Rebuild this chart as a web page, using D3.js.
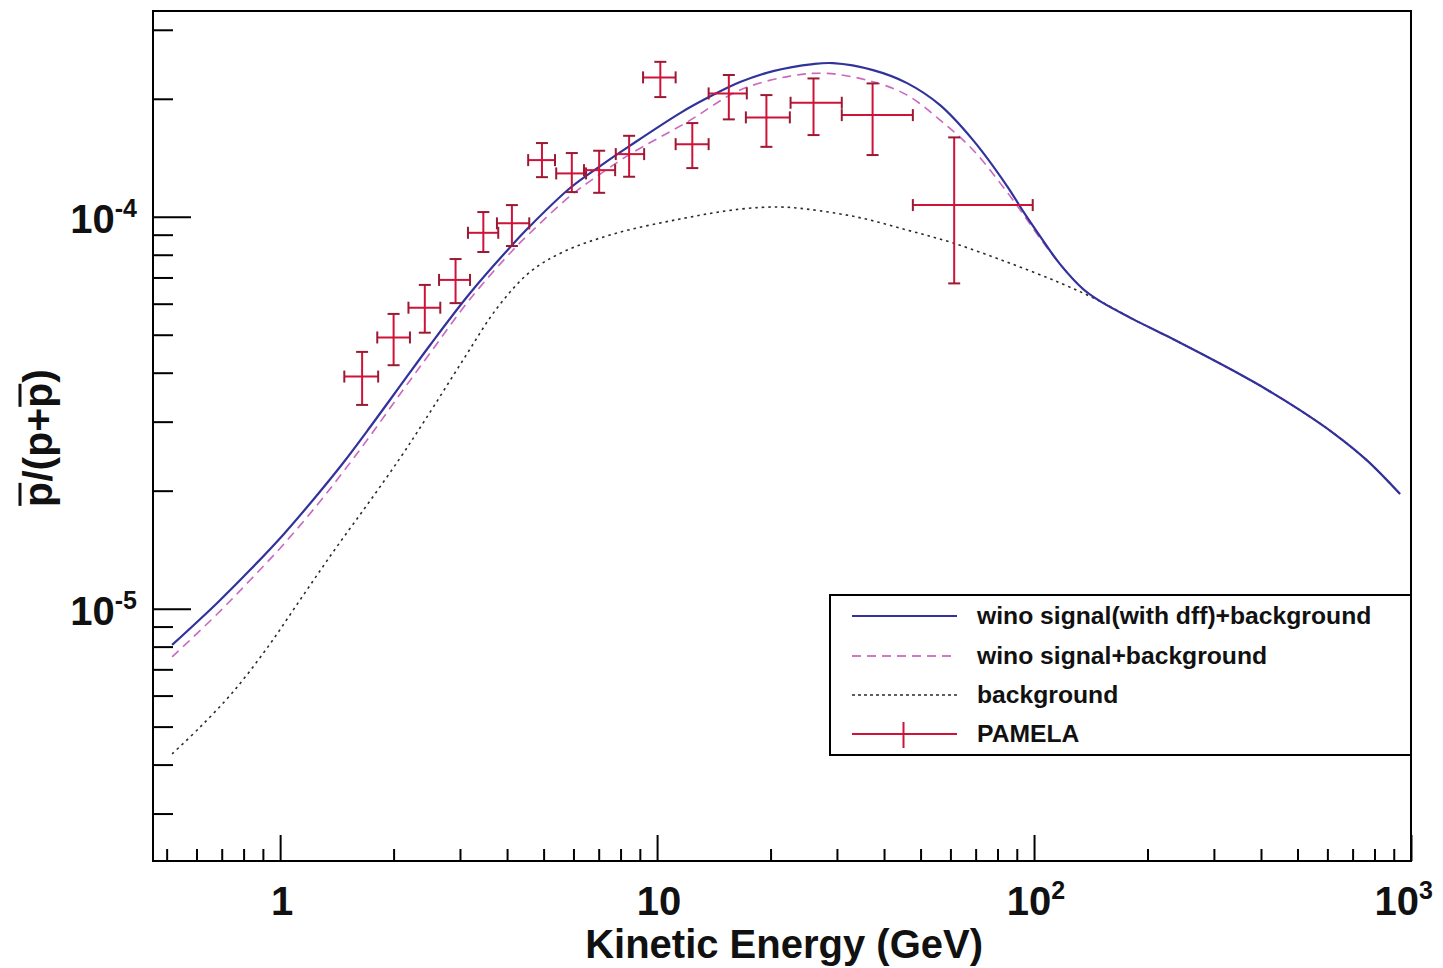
<!DOCTYPE html>
<html>
<head>
<meta charset="utf-8">
<script src="https://cdn.jsdelivr.net/npm/d3@7"></script>
<style>
  body { margin: 0; background: #fff; }
  svg { display: block; font-family: "Liberation Sans", Arial, Helvetica, sans-serif; font-weight: bold; }
</style>
</head>
<body>
<svg id="chart" width="1443" height="968"></svg>
<script>
// Axis ranges
const energyRange = [0.46, 1000];          // kinetic energy, GeV
const ratioRange = [2.27e-6, 3.35e-4];     // pbar / (p + pbar)

// Tick values
const xMajorTicks = [1, 10, 100, 1000];
const xMinorTicks = [0.5, 0.6, 0.7, 0.8, 0.9, 2, 3, 4, 5, 6, 7, 8, 9,
                     20, 30, 40, 50, 60, 70, 80, 90, 200, 300, 400, 500, 600, 700, 800, 900];
const xTickLabels = [["1", ""], ["10", ""], ["10", "2"], ["10", "3"]];
const yMajorTicks = [1e-5, 1e-4];
const yMinorTicks = [3e-6, 4e-6, 5e-6, 6e-6, 7e-6, 8e-6, 9e-6,
                     2e-5, 3e-5, 4e-5, 5e-5, 6e-5, 7e-5, 8e-5, 9e-5, 2e-4, 3e-4];
const yTickLabels = [["10", "-5"], ["10", "-4"]];

// Wino signal (with dff) + background
const winoDffEnergy = [0.517, 0.681, 0.833, 1.018, 1.254, 1.469, 1.733, 2.081, 2.50, 3.192, 4.125, 4.603,
  5.877, 7.062, 8.481, 11.51, 13.65, 16.60, 20.31, 25.93, 29.30, 37.41, 46.05, 56.33, 68.90, 84.80,
  93.50, 103.7, 117.2, 134.9, 149.6, 183.0, 225.4, 275.6, 337.3, 415.0, 507.6, 621.0, 764.2, 935.3];
const winoDffRatio = [8.08e-6, 1.034e-5, 1.256e-5, 1.542e-5, 1.950e-5, 2.353e-5, 2.907e-5, 3.700e-5,
  4.708e-5, 6.39e-5, 8.47e-5, 9.47e-5, 1.184e-4, 1.347e-4, 1.519e-4, 1.839e-4, 2.014e-4, 2.206e-4,
  2.353e-4, 2.452e-4, 2.466e-4, 2.367e-4, 2.193e-4, 1.927e-4, 1.569e-4, 1.198e-4, 1.034e-4, 8.93e-5,
  7.57e-5, 6.54e-5, 6.09e-5, 5.48e-5, 4.96e-5, 4.49e-5, 4.05e-5, 3.62e-5, 3.21e-5, 2.81e-5, 2.39e-5, 1.962e-5];

// Wino signal + background
const winoEnergy = [0.517, 0.681, 0.833, 1.018, 1.254, 1.469, 1.733, 2.081, 2.50, 3.192, 4.125, 4.603,
  5.877, 7.062, 8.481, 12.01, 16.60, 22.53, 28.25, 37.41, 46.05, 56.33, 68.90, 84.80, 93.50, 103.7,
  117.2, 134.9, 149.6, 183.0, 225.4, 275.6, 337.3, 415.0, 507.6, 621.0, 764.2, 935.3];
const winoRatio = [7.53e-6, 9.69e-6, 1.183e-5, 1.454e-5, 1.839e-5, 2.232e-5, 2.759e-5, 3.529e-5, 4.49e-5,
  6.17e-5, 8.18e-5, 9.09e-5, 1.129e-4, 1.285e-4, 1.445e-4, 1.744e-4, 2.105e-4, 2.285e-4, 2.322e-4,
  2.210e-4, 2.044e-4, 1.765e-4, 1.480e-4, 1.156e-4, 1.016e-4, 8.82e-5, 7.57e-5, 6.54e-5, 6.09e-5,
  5.48e-5, 4.96e-5, 4.49e-5, 4.05e-5, 3.62e-5, 3.21e-5, 2.81e-5, 2.39e-5, 1.962e-5];

// Background only
const bgEnergy = [0.517, 0.614, 0.750, 0.924, 1.130, 1.382, 1.701, 2.081, 2.424, 3.058, 3.764, 4.603,
  5.632, 7.644, 11.51, 16.60, 21.20, 25.00, 33.93, 46.05, 60.97, 84.80, 117.2, 149.6, 183.0, 225.4,
  275.6, 337.3, 415.0, 507.6, 621.0, 764.2, 935.3];
const bgRatio = [4.26e-6, 4.99e-6, 6.13e-6, 7.94e-6, 1.053e-5, 1.395e-5, 1.839e-5, 2.423e-5, 3.030e-5,
  4.31e-5, 5.85e-5, 7.23e-5, 8.13e-5, 9.03e-5, 9.87e-5, 1.046e-4, 1.059e-4, 1.046e-4, 9.98e-5, 9.25e-5,
  8.57e-5, 7.66e-5, 6.78e-5, 6.09e-5, 5.48e-5, 4.96e-5, 4.49e-5, 4.05e-5, 3.62e-5, 3.21e-5, 2.81e-5,
  2.39e-5, 1.962e-5];

// PAMELA measurements
const pamelaEnergy = [1.65, 2.00, 2.42, 2.92, 3.46, 4.12, 4.95, 5.94, 7.02, 8.43, 10.2, 12.4, 15.5, 19.5, 26.0, 37.3, 61.4];
const pamelaEnergyLow = [1.48, 1.81, 2.19, 2.64, 3.15, 3.76, 4.55, 5.40, 6.40, 7.77, 9.18, 11.2, 13.7, 17.2, 22.6, 30.9, 47.7];
const pamelaEnergyHigh = [1.82, 2.21, 2.66, 3.19, 3.79, 4.58, 5.36, 6.48, 7.74, 9.24, 11.2, 13.7, 17.3, 22.5, 30.9, 47.7, 99.2];
const pamelaRatio = [3.91e-5, 4.92e-5, 5.86e-5, 6.90e-5, 9.10e-5, 9.62e-5, 1.395e-4, 1.290e-4, 1.315e-4,
  1.445e-4, 2.268e-4, 1.532e-4, 2.064e-4, 1.793e-4, 1.954e-4, 1.817e-4, 1.071e-4];
const pamelaErrUp = [0.61e-5, 0.73e-5, 0.84e-5, 0.90e-5, 1.18e-5, 1.09e-5, 1.47e-5, 1.64e-5, 1.59e-5,
  1.64e-5, 2.17e-5, 2.02e-5, 2.36e-5, 2.51e-5, 3.00e-5, 3.72e-5, 5.23e-5];
const pamelaErrDown = [0.60e-5, 0.74e-5, 0.80e-5, 0.88e-5, 0.97e-5, 1.20e-5, 1.33e-5, 1.34e-5, 1.64e-5,
  1.80e-5, 2.48e-5, 2.01e-5, 2.92e-5, 2.85e-5, 3.38e-5, 3.80e-5, 3.95e-5];

const legendLabels = ["wino signal(with dff)+background", "wino signal+background", "background", "PAMELA"];

// ---------------------------------------------------------------------------
const svg = d3.select("#chart");
const frame = { left: 153, right: 1411, top: 11, bottom: 861 };

const x = d3.scaleLog().domain(energyRange).range([frame.left, frame.right]);
const y = d3.scaleLog().domain(ratioRange).range([frame.bottom, frame.top]);

const colors = {
  dff: "#32329c",
  wino: "#c24cb4",
  bg: "#2a2a2a",
  data: "#cf1238",
  cap: "#9a1a34"
};

svg.append("defs").append("clipPath").attr("id", "plotClip")
  .append("rect")
  .attr("x", frame.left).attr("y", frame.top)
  .attr("width", frame.right - frame.left).attr("height", frame.bottom - frame.top);

// Ticks drawn inward from the bottom and left edges
function styleAxis(g) {
  g.select(".domain").remove();
  g.selectAll(".tick line").attr("stroke", "#000").attr("stroke-width", 2);
  g.selectAll(".tick text").remove();
}
svg.append("g").attr("transform", `translate(0,${frame.bottom})`)
  .call(d3.axisBottom(x).tickValues(xMinorTicks).tickSize(-12).tickFormat(""))
  .call(styleAxis);
svg.append("g").attr("transform", `translate(0,${frame.bottom})`)
  .call(d3.axisBottom(x).tickValues(xMajorTicks).tickSize(-26).tickFormat(""))
  .call(styleAxis);
svg.append("g").attr("transform", `translate(${frame.left},0)`)
  .call(d3.axisLeft(y).tickValues(yMinorTicks).tickSize(-20).tickFormat(""))
  .call(styleAxis);
svg.append("g").attr("transform", `translate(${frame.left},0)`)
  .call(d3.axisLeft(y).tickValues(yMajorTicks).tickSize(-38).tickFormat(""))
  .call(styleAxis);

// Frame
svg.append("rect")
  .attr("x", frame.left).attr("y", frame.top)
  .attr("width", frame.right - frame.left).attr("height", frame.bottom - frame.top)
  .attr("fill", "none").attr("stroke", "#000").attr("stroke-width", 2);

// Tick labels with superscript exponents
function powerLabel(g, base, exp) {
  const t = g.append("text").attr("fill", "#111").attr("font-size", 40);
  t.append("tspan").text(base);
  if (exp) {
    t.append("tspan").attr("font-size", 25).attr("dy", -16).text(exp);
  }
  return t;
}
xMajorTicks.forEach((v, i) => {
  const t = powerLabel(svg, xTickLabels[i][0], xTickLabels[i][1])
    .attr("y", 915).attr("text-anchor", "middle").attr("x", x(v) + 2);
  const bb = t.node().getBBox();
  if (bb.x + bb.width > 1433) t.attr("x", x(v) + 2 - (bb.x + bb.width - 1433));
});
yMajorTicks.forEach((v, i) => {
  powerLabel(svg, yTickLabels[i][0], yTickLabels[i][1])
    .attr("x", 137).attr("y", y(v) + 16).attr("text-anchor", "end");
});

// Axis titles
svg.append("text")
  .attr("x", 983).attr("y", 958).attr("text-anchor", "end")
  .attr("font-size", 40).attr("fill", "#111")
  .text("Kinetic Energy (GeV)");

const yTitle = svg.append("g").attr("transform", "translate(52,438) rotate(-90)");
const yTitleText = yTitle.append("text")
  .attr("text-anchor", "middle").attr("font-size", 41).attr("fill", "#111")
  .text("p/(p+p)");
[0, 5].forEach(ci => {
  const a = yTitleText.node().getStartPositionOfChar(ci);
  const b = yTitleText.node().getEndPositionOfChar(ci);
  yTitle.append("line")
    .attr("x1", a.x + 1).attr("x2", b.x - 1)
    .attr("y1", -32).attr("y2", -32)
    .attr("stroke", "#111").attr("stroke-width", 3);
});

// Curves, interpolated smoothly in screen space
const line = d3.line().x(d => x(d[0])).y(d => y(d[1])).curve(d3.curveCatmullRom.alpha(0.5));
const curves = svg.append("g").attr("clip-path", "url(#plotClip)");

curves.append("path")
  .datum(d3.zip(bgEnergy, bgRatio))
  .attr("d", line).attr("fill", "none")
  .attr("stroke", colors.bg).attr("stroke-width", 1.6).attr("stroke-dasharray", "2.5,4");

curves.append("path")
  .datum(d3.zip(winoEnergy, winoRatio))
  .attr("d", line).attr("fill", "none")
  .attr("stroke", colors.wino).attr("stroke-width", 1.6).attr("stroke-dasharray", "9,6")
  .attr("opacity", 0.85);

curves.append("path")
  .datum(d3.zip(winoDffEnergy, winoDffRatio))
  .attr("d", line).attr("fill", "none")
  .attr("stroke", colors.dff).attr("stroke-width", 2.2);

// PAMELA error crosses
const cap = 6;
const pamela = pamelaEnergy.map((e, i) => ({
  e, lo: pamelaEnergyLow[i], hi: pamelaEnergyHigh[i],
  r: pamelaRatio[i], up: pamelaRatio[i] + pamelaErrUp[i], down: pamelaRatio[i] - pamelaErrDown[i]
}));
const pts = svg.append("g").attr("clip-path", "url(#plotClip)")
  .selectAll("g").data(pamela).join("g");
pts.append("line")
  .attr("x1", d => x(d.lo)).attr("x2", d => x(d.hi))
  .attr("y1", d => y(d.r)).attr("y2", d => y(d.r))
  .attr("stroke", colors.data).attr("stroke-width", 2);
pts.append("line")
  .attr("x1", d => x(d.e)).attr("x2", d => x(d.e))
  .attr("y1", d => y(d.up)).attr("y2", d => y(d.down))
  .attr("stroke", colors.data).attr("stroke-width", 2);
// end caps
pts.each(function (d) {
  const g = d3.select(this);
  [d.lo, d.hi].forEach(v => g.append("line")
    .attr("x1", x(v)).attr("x2", x(v))
    .attr("y1", y(d.r) - cap).attr("y2", y(d.r) + cap)
    .attr("stroke", colors.cap).attr("stroke-width", 2));
  [d.up, d.down].forEach(v => g.append("line")
    .attr("x1", x(d.e) - cap).attr("x2", x(d.e) + cap)
    .attr("y1", y(v)).attr("y2", y(v))
    .attr("stroke", colors.cap).attr("stroke-width", 2));
});

// Legend
const legend = svg.append("g");
legend.append("rect")
  .attr("x", 830).attr("y", 595).attr("width", 581).attr("height", 160)
  .attr("fill", "#fff").attr("stroke", "#000").attr("stroke-width", 2);
const rows = [616, 656, 695, 734];
const sx1 = 852, sx2 = 957;
legend.append("line").attr("x1", sx1).attr("x2", sx2).attr("y1", rows[0]).attr("y2", rows[0])
  .attr("stroke", colors.dff).attr("stroke-width", 2.2);
legend.append("line").attr("x1", sx1).attr("x2", sx2).attr("y1", rows[1]).attr("y2", rows[1])
  .attr("stroke", colors.wino).attr("stroke-width", 1.6).attr("stroke-dasharray", "9,6");
legend.append("line").attr("x1", sx1).attr("x2", sx2).attr("y1", rows[2]).attr("y2", rows[2])
  .attr("stroke", colors.bg).attr("stroke-width", 1.6).attr("stroke-dasharray", "3,3");
legend.append("line").attr("x1", sx1).attr("x2", sx2).attr("y1", rows[3]).attr("y2", rows[3])
  .attr("stroke", colors.data).attr("stroke-width", 2);
legend.append("line").attr("x1", (sx1 + sx2) / 2 - 1).attr("x2", (sx1 + sx2) / 2 - 1)
  .attr("y1", rows[3] - 12).attr("y2", rows[3] + 14)
  .attr("stroke", colors.data).attr("stroke-width", 2);
legendLabels.forEach((lab, i) => {
  legend.append("text")
    .attr("x", 977).attr("y", rows[i] + 8)
    .attr("font-size", 24.7).attr("fill", "#111")
    .text(lab);
});
</script>
</body>
</html>
